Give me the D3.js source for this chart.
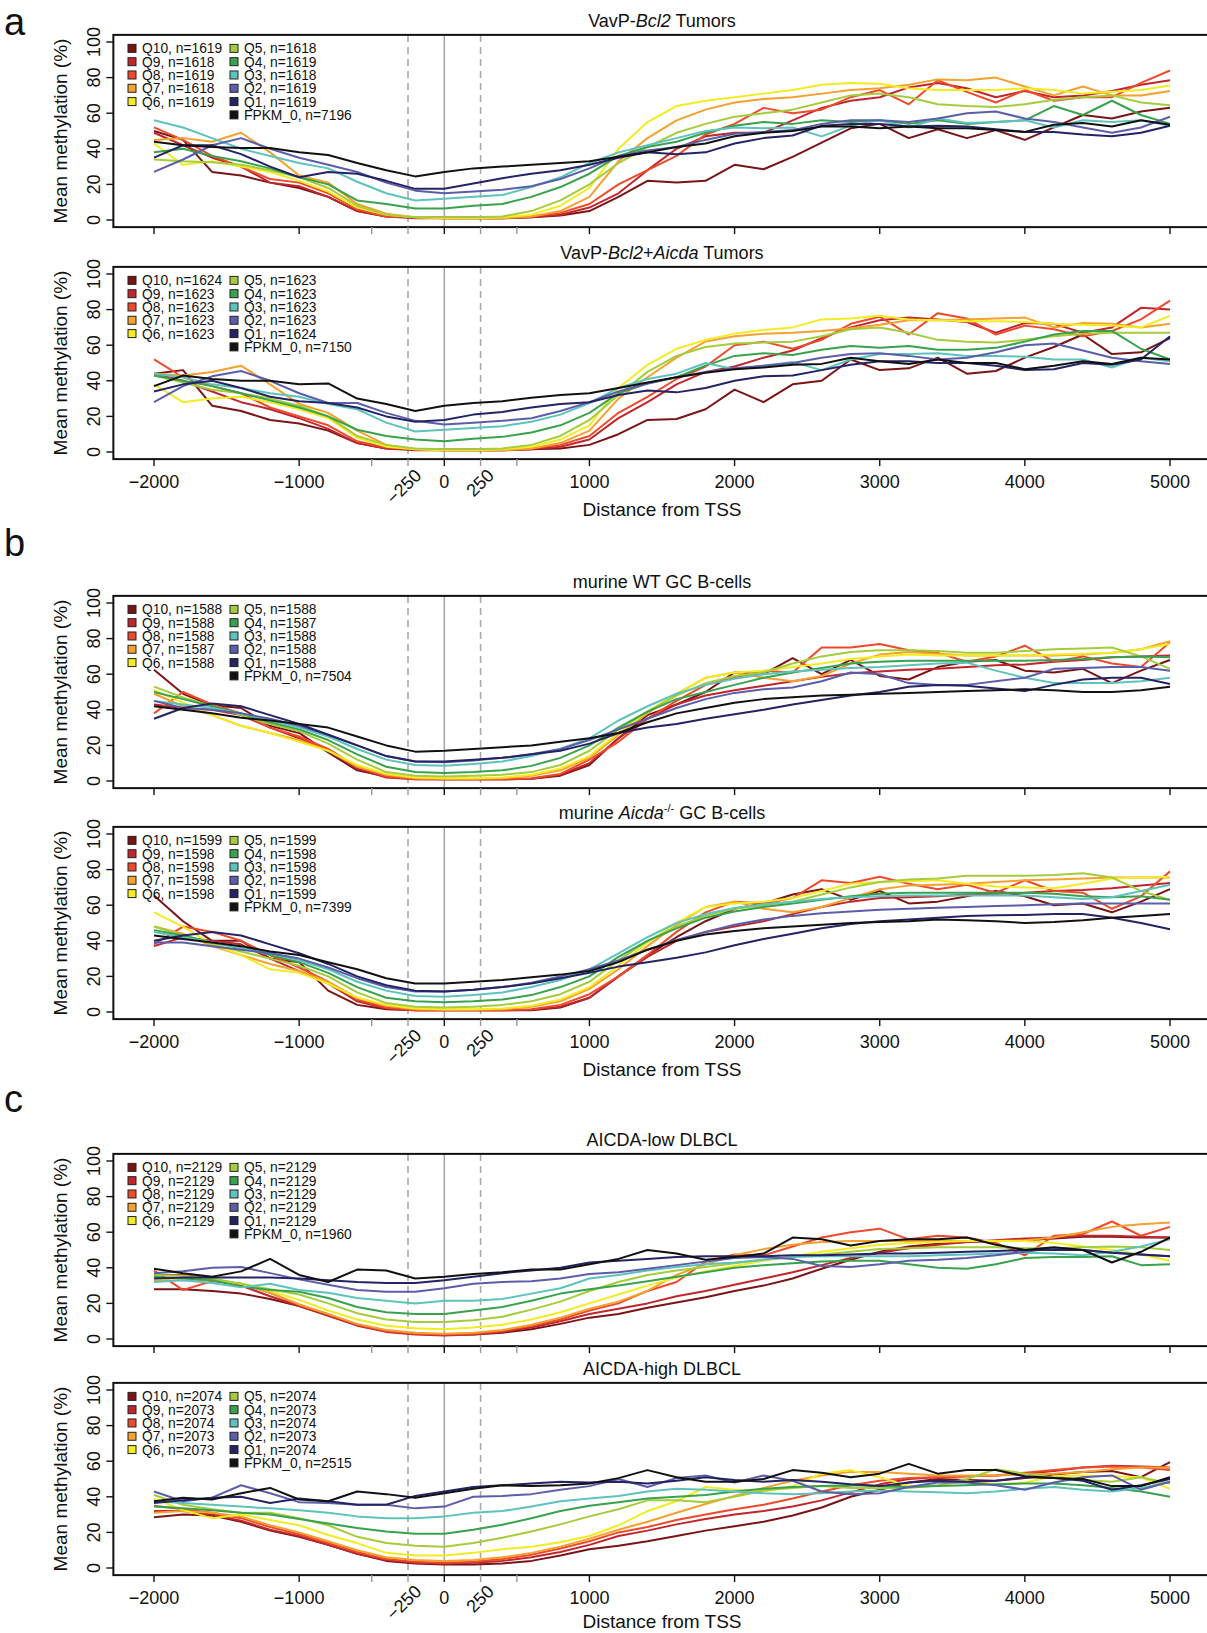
<!DOCTYPE html>
<html lang="en">
<head>
  <meta charset="UTF-8">
  <title>Mean methylation around the TSS by expression quantile</title>
  <script src="https://d3js.org/d3.v7.min.js"></script>
  <style>
    html, body { margin: 0; padding: 0; background: #fff; }
    svg { display: block; font-family: "Liberation Sans", Arial, sans-serif; fill: #111; }
    .series { fill: none; stroke-width: 2px; stroke-linejoin: round; }
    .frame { fill: none; stroke: #111; stroke-width: 2px; }
    .ref { stroke: #a9a9a9; stroke-width: 1.6px; }
    .tick { stroke: #111; stroke-width: 1.4px; }
    .tick.minor { stroke: #9a9a9a; }
    .ticklabel, .ptitle { font-size: 18px; }
    .axistitle { font-size: 19px; }
    .legend text { font-size: 13.8px; }
    .letter { font-size: 38px; }
  </style>
</head>
<body>
<svg id="chart" width="1207" height="1633"></svg>
<script>
// x positions of the profile bins (bp from TSS)
const distance = [-2000, -1800, -1600, -1400, -1200, -1000, -800, -600, -400, -200, 0, 200, 400, 600, 800, 1000,
  1200, 1400, 1600, 1800, 2000, 2200, 2400, 2600, 2800, 3000, 3200, 3400, 3600, 3800, 4000, 4200, 4400, 4600, 4800, 5000];

const groups = ["Q10", "Q9", "Q8", "Q7", "Q6", "Q5", "Q4", "Q3", "Q2", "Q1", "FPKM_0"];
const groupColors = ["#7a1416", "#c1262c", "#ee4a2b", "#f6a02e", "#f2ec20", "#a5cc3b", "#38a24c", "#5ec3bc", "#5b5ea9", "#242364", "#111111"];

const majorTicks = [-2000, -1000, 0, 1000, 2000, 3000, 4000, 5000];
const minorTicks = [-500, -250, 250, 500];
const angledTicks = [-250, 250];
const yTicks = [0, 20, 40, 60, 80, 100];

// rows follow `groups`: Q10 ... Q1, FPKM_0
const vavpBcl2 = [
  [50,45,27,25,21,18,13,5,2,1.5,1,1,1,1.5,2.5,5, 13,22,21,22,31,28.5,35.5,43.5,51.5,54,46,51,46,50.5,45,52,59,57,61,63],
  [49,42,35,30,21,19,13,5,2,1,1,1,1,1.5,3,7, 15,28,40,47,49,49,56,63,67,69,74.5,77,74,69,72.5,69,70,72.5,76,78.5],
  [52,45,36,30,23,21,15,6,2,1.5,1.5,1.5,1.5,2,4,9, 20,28,36,48,54,63,60,62,69,73,65,78.5,72,66,73,67,69,69,77,84],
  [45,46,44,49,38,25,21,9,3.5,1.5,1,1,1,2,5,13, 33,46,56,62,66,68,69,71,73,74,76,79,78.5,80,75,70,75,70,70,72.5],
  [43,31,33,30,27,22,16,7,3,1.5,1,1,1.5,3,8,18, 40,55,64,67,69,71,73,76,77,76.5,74,73,73,73,74,73,71,72,73,75.5],
  [34,33,32.5,31,28,24,18,8,3,1.5,1.5,1.5,2,5,11,20, 32,41,49,54,58,60,62,66,70,71,69,65,64,63.5,65,67.5,69,70,66,64.5],
  [38,40,36,33,29,24,20,11,9,6.5,6.5,8,9,13,18.5,26, 36,41,44,49,53,55,54,56,55,56,54,56,54,55,56,64,59,67,59,54],
  [56,52,46,40,36,32,29,21.5,15,11,12,13,14,18.5,24,32, 38,42,46,50,52,51.5,52,47,53,56,52,57,54.5,55,56,52,56,55,56,53],
  [27,34,42,46,40,35,31,27,21,16.5,15,16,17,19,23,29, 36,39,41,45,48.5,49.5,50.5,54,56,56,55,57,60,61,57,55,52,49,52,58],
  [35,42,42,37,30,24,27,26,22,17.5,17.5,20.5,23.5,26,28,31, 35,38,37,38,43,46,47.5,53,54,54,52.5,53,52.5,51,49.5,49.5,48,47,49,53],
  [44,42,41,40.5,40.5,38,36.5,32,28,24.5,27,29,30,31,32,33, 35.5,38,41,43,47,49,50,52.5,52.5,51.5,52.5,51.5,51.5,50.5,49.5,53.5,54.5,52.5,56,53.5]
];
const vavpBcl2N = [1619, 1618, 1619, 1618, 1619, 1618, 1619, 1618, 1619, 1619, 7196];

const vavpBcl2Aicda = [
  [44,46,26,23,18,16,12,5,2,1.5,1,1,1,1.5,2,4, 10,18,18.5,24,35,28,38,40,52,46,47,53,44,45.5,53,59,66,55,56,64],
  [44,40,34,28,24,19,13,5,2,1,1,1,1,1.5,3,7, 19,28,38,45,48,53,57,64,70,74,75.5,74.5,73,67,72.5,72,67,70,81,80],
  [52,42,37,33,25,20,15,6,2.5,1.5,1.5,1.5,1.5,2,4,9, 22,31,41,48,60,62,58,63,72,76,66,78,75,66,71,69,65,68,74.5,85],
  [44,43,45,48.5,38,27,22,12,4,1.5,1,1,1,2,5,12, 30,42,53,62,65,66.5,67,68,69.5,71.5,74,74,74.5,75,75.5,70,72.5,72,70,72],
  [38,28,30,31,28,24,19,8,3,1.5,1,1,1.5,3,7,15, 36,49,58,63,66.5,68.5,70,74.5,75,76.5,74.5,74,73.5,73.5,73,72,71.5,71,70,76.5],
  [43,39,35,33,30,26,20,9,4,2,1.5,1.5,2,4,9,18, 32,45,54,59,61,61.5,62,65,69,70,67,63,62,61.5,63,65,66.5,67,67,67],
  [43,40,37,33,29,25,20,12.5,9,7,6,7.5,8.5,11,15,22, 33,38.5,42,48.5,54,55.5,54.5,57.5,59.5,58.5,59.5,57.5,57.5,58.5,62,66,68,68,58,52],
  [44,42,38,36,33,31,27,24,16.5,11.5,12.5,13.5,14.5,17,21,27.5, 36,41,44,50,46.5,48.5,50.5,46,52,55,55,55.5,54,54,53.5,52,52,47.5,53,51],
  [28,37,42.5,45.5,40,33,27.5,27.5,22,17.5,15.5,16.5,17.5,19,23,28, 34,38.5,42,45,47,48.5,50,53,55,55.5,54,52,53,56,60,61,57,53,51,49.5],
  [34,38,40,36,31,28.5,27.5,25,20,17,18,21,22.5,25,27,28, 32,34.5,33.5,36,40,42.5,43,46,49,51,51,50,50,48.5,46,46.5,50,49,52,65],
  [37,43,41,40,40,38,38.5,30,27,23,26,27.5,28.5,30.5,32,33, 36,39,42,44.5,46.5,47.5,49,49.5,53,51,49.5,52,50,50,46.5,48.5,51,49.5,53,52]
];
const vavpBcl2AicdaN = [1624, 1623, 1623, 1623, 1623, 1623, 1623, 1623, 1623, 1624, 7150];

const murineWT = [
  [62.5,49,42.5,41,31,27,16,6,2.5,1.3,1,1,1,1.2,3,9, 24,37,43,50,61,60,69,60,68,59,57,64,67,68,62,61,63,55,62,68],
  [43,41,40,37,30,24,17,7,2,1,1,1,1,1.2,3.5,10, 24,35,43,48,51,53.5,56,58.5,60.5,61.5,62.5,63,64,65,65.5,67,68,69.5,70,70.5],
  [38,50,43,38,30,25,18,8,2.5,1,1,1,1,1.5,4,12, 22,35,45,54,58,62,61,75,75,77,73.5,72,67,70,76,67,70,66,64,78],
  [49,42,37,31,27,23,17,8,3.5,1.5,1.2,1.2,1.5,3,6,13, 26,38,49,58,61,58,56,59,66,71,72.5,71.5,70.5,70.5,70.5,70.5,71,72,74,78.5],
  [51,44,37,31,27,22,17,9,4,2,1.5,1.5,2,3.5,7,14, 27,39,49,58,61,62,64,66,68.5,70,71,70.5,70.5,70.5,70.5,71,71.5,72,74,77],
  [53,47,42,37,32,28,21,12,5,3,2.5,3,3.5,5,9,17, 29,39,48,55,59,61,66,70,72.5,73.5,73.5,73,72,72,73,74,74.5,75,70,63],
  [50,46,42,38,33,29,23,15,8,5,4.5,5,6,8.5,13,20, 30,39,46,50,54,58,61,63.5,66,67,67.5,67.5,67.5,67.5,67.5,68,68.5,69.5,70,69.5],
  [45,43,41,38,34,30,25,18,12,9,8.5,9.5,11,14,18,24, 34,42,49,54,57.5,60,61.5,62.5,63.5,64,65,66,66.5,62,58,55,55,55,56,58],
  [45,41,40,38,35,31,26,20,14,11,10.5,11.5,13,15,18,23, 29,35,41,46,49.5,51.5,52.5,56,61,60,55,54,54,56,58,63,63.5,64,64,62],
  [35,41,43.5,42,37,32,26,20,14,11,11,12,13,15,17,21, 27,30,32,35,37.5,40,43,45.5,48,50,53,54,53.5,52,50.5,54,57,58,58,54.5],
  [42,40,38,35.5,34,32,30,25,20,16.5,17,18,19,20,22,24, 27,33,38,41,44,46,47,48,48.5,49,49.5,50,50.5,51,51.5,51,50,50,51,53]
];
const murineWTN = [1588, 1588, 1588, 1587, 1588, 1588, 1587, 1588, 1588, 1588, 7504];

const murineAicdaKO = [
  [65.5,51,40,40,30,28,12,4,1.5,1,1,1,1,1,2.5,8, 20,32,42,51,58,61,66,69,63,68,61,62,65,68,65,60,61,56,62,69],
  [37,42,40,38,30,23,16,6,2,1,1,1,1,1.2,3,8, 20,31,40,45,48,51,55,59,62,64,64.5,65,66,66.5,67,68,68.5,69.5,71,72.5],
  [38,48,45,40,32,25,17,7,2.5,1,1,1,1,1.5,4,10, 20,32,45,56,62,61,64,74,72.5,76,72,69,71.5,67,74,68,67,58,65,79],
  [48,44,37,32,27,23,17,8,3.5,1.5,1.2,1.2,1.5,3,6,13, 24,37,49,59,62,58,56,59,64,69,71,71.5,72,73,74,74.5,75,75.5,75.5,75.5],
  [56,48,38,32,24,22,16,8,4,2,1.5,1.5,2,3.5,7,14, 26,39,50,59,61,62,64,68,72,73,73.5,74,72,70.5,70,69.5,72,75,75.5,76],
  [48,43,38,34,30,26,20,11,5,3,2.5,3,4,6,10,17, 29,40,48,54,58,60,62,66,70,73,74.5,75,76.5,76.5,76.5,77,78,75.5,68,63],
  [46,43,39,36,32,28,22,14,8,6,5.5,6,7,9.5,14,20, 31,40,47,53,56.5,59,61,63,65,66.5,67,67,67,67,67,66.5,65,64.5,65,63],
  [45,42,39,36,33,29,24,17,12,9,8.5,9.5,11,14,18,24, 33,42,50,55,58.5,60.5,62,63.5,64.5,65,65.5,65.5,65.5,65.5,65.5,64.5,63.5,64.5,68,71.5],
  [39,39,37,35,33,30,25,19,14,11.5,11.5,12.5,14,16.5,20,24, 29,35,40.5,45,49,52,54,55.5,56.5,57.5,58,58.5,59,59.5,60,60.5,61,61,61,61],
  [40,43,45,43,38,33,27,20,15,12,11.5,12.5,14,16,19,22, 25.5,28,30.5,33.5,37.5,41,44,47,49.5,51,52,53,54,54.3,54.5,55,55,53,50,46.5],
  [43,41,39,37,34,32,28,24,19,16,16,17,18,19.5,21,23, 28,35,40,43.5,45.5,47,48,49,50,50.5,51,52,51.5,51,50,50.5,51.5,53,54,55]
];
const murineAicdaKON = [1599, 1598, 1598, 1598, 1598, 1599, 1598, 1598, 1598, 1599, 7399];

const aicdaLow = [
  [28,28,27,25.5,22.5,18.5,13.5,8,4.5,3,2.5,2.5,3.5,5.5,8.5,12, 14,17.5,20.5,23.5,27,30,34,39.5,44.5,49,52,53.5,54.5,55,55.5,56.5,57.5,57.5,57,57],
  [36,36,34,30,24,18.5,13,7.5,4,2.5,2,2.5,4,6.5,10,14, 17,20,24,27,30.5,34,37.5,41.5,45.5,48.5,51,53,54.5,55.5,56.5,57,58,58,57.5,57],
  [38.5,27.5,32.5,31,26,19,14,8,4.5,3,2.5,3,4.5,7.5,11,16, 20,27,32,43.5,47.5,47,52,57,60,62,56,58,57,54,47,58,59,66,58,63],
  [33,33,33,31,26,19.5,14,8.5,5,3.5,3,3.5,5,8,12,17, 21,27,36,42,47,50.5,53,54.5,55,55,55,55,55,55,55.5,57,60,63,64.5,65.5],
  [34,34,33.5,31,27,22,16,11,7.5,6,5.5,6.5,8,11,15,20, 25,30,34.5,38,41,44,46.5,49,51,53,54,54.5,55,55,55,54,52,50,47.5,44],
  [36,35.5,34,31,28,25,20,14.5,11,9.5,9.5,10.5,12.5,16.5,21,27, 32,36,38.5,40.5,42.5,44.5,46,47.5,49,50.5,51,51.5,51.5,51.5,51,51,51.5,52,51.5,50],
  [35,34,33,29.5,27.5,26.5,23,18,15,14,14,16,18,21.5,25.5,28, 30,32.5,35,37.5,40,41.5,42.5,43.5,44,44,42,40,39.5,42,45.5,46,46,46.5,41.5,42],
  [32,33,31.5,29,31,27.5,26,23,21.5,20,21.5,21.5,22.5,25.5,28.5,34, 36,38.5,40.5,42,43,44.5,46,46.5,46.5,46.5,46.5,47,47.5,48,48.5,48,47,49,52,56],
  [37,38,40,40.5,37,33.5,30.5,27.5,26.5,26.5,28.5,31,32,32.5,34,36.5, 37.5,39.5,41.5,43.5,45.5,46,45,41,40.5,42,44,44.5,45.5,47,49,51,50,48.5,47.5,46.5],
  [34,34.5,34.5,34.5,34.5,34,33,32,31.5,31.5,33,35,37,38.5,40,43, 44,45,46,46.5,46.5,46.5,47,47,47.5,48,48,48.5,49,49.5,50,50,50,48.5,47.5,46.5],
  [39.5,37,35,38,45,36,32,39,38.5,34,35,36.5,37.5,39,39,42, 45,50,48,44.5,46,48,57,56,52.5,55,56,56,57,53,50,51.5,50,43,49,57]
];
const aicdaLowN = [2129, 2129, 2129, 2129, 2129, 2129, 2129, 2129, 2129, 2129, 1960];

const aicdaHigh = [
  [28.5,30,29.5,26,21,17.5,13,8,4,2.5,2,2,2.5,4,7,10.5, 12.5,15,18,21,23.5,26,29.5,34,40,44,48,50,49.5,49,50.5,52.5,54,54.5,51,59.5],
  [32,32,30,26.5,21.5,18,13,8,4.5,3,2.5,3,4,6,9,13, 18,21,24.5,27.5,30,32,34.5,38,42.5,47,50,51,51.5,52,53,54.5,56.5,57.5,57,56.5],
  [35,33,31,28,23,19,14,9,5,3.5,3,3.5,5,7.5,11,15, 20,23,27,30,33,35.5,39,43,46.5,49,50.5,51,51.5,52,53.5,55,56.5,57,56.5,55],
  [31,32,31,29,24,20,15,10,6,4.5,4,4.5,6,8.5,12,16.5, 21.5,26,31,36,40.5,45,49,52,54,54,53,52,52,52,52.5,53,54,55.5,56.5,56.5],
  [39,32.5,28,30,27,24,18.5,14,8.5,7,7,8.5,10.5,12,14.5,18, 24,32,37.5,45.5,44,43,46,53,55,51,46,46,49,47,48,51.5,52,51.5,51,44.5],
  [41,35.5,33,31,31,28,24,17.5,14,12.5,12,14,17,20.5,24.5,29, 33,38,38,37,40,43.5,45,46,45,45,45,46.5,50,55.5,53,51,49.5,48.5,51,47.5],
  [34.5,33.5,32.5,31,30,27.5,25,22.5,20.5,19.3,19.3,21.5,24.3,28,32,35, 37,39,40,41,43,44.5,45.5,46,46.5,46,45.5,46,46.5,47,47.5,47.5,46.5,45,43,40],
  [37.5,36.5,35.5,34.5,33.5,32.5,31,29,28,28,29,31,32,34.5,37.5,39, 40.5,43,44.5,44,43,42,41.5,42,43,43.5,43,42.5,42,43,44.5,45.5,44,43,45,48.5],
  [43,37.5,39.5,46.5,42,37,36.5,35.5,35.5,33.5,34.5,40,40.5,41.5,44,46, 50,45.5,50.5,52,48,52,49,43,41.5,42,45.5,48,48,46.5,44,48,51,52,44,48.5],
  [36.5,38,39.5,40,36.5,39,37.5,35.5,35.5,40.5,43,45.5,46.5,47.5,48.5,48, 48.5,47.5,49,51,49.5,48.5,49.5,48.5,47,46,48,49,48.5,49,51,50.5,49,44,46.5,50],
  [37.5,39.5,38.5,42,45,38.5,37.5,43,41.5,39.5,42,44.5,46.5,46,46.5,47.5, 50.5,55,51,48.5,48.5,50,55,53.5,51,53,58.5,53,55,55,51.5,50.5,50,46,46,51]
];
const aicdaHighN = [2074, 2073, 2074, 2073, 2073, 2074, 2073, 2074, 2073, 2074, 2515];

// panel layout: base = pixel row of 0 %
const panels = [
  { letter: "a", title: [["VavP-"], ["Bcl2", "i"], [" Tumors"]], data: vavpBcl2, n: vavpBcl2N, base: 220, labels: false },
  { title: [["VavP-"], ["Bcl2", "i"], ["+"], ["Aicda", "i"], [" Tumors"]], data: vavpBcl2Aicda, n: vavpBcl2AicdaN, base: 452, labels: true },
  { letter: "b", title: [["murine WT GC B-cells"]], data: murineWT, n: murineWTN, base: 781, labels: false },
  { title: [["murine "], ["Aicda", "i"], ["-/-", "sup"], [" GC B-cells", "after"]], data: murineAicdaKO, n: murineAicdaKON, base: 1012, labels: true },
  { letter: "c", title: [["AICDA-low DLBCL"]], data: aicdaLow, n: aicdaLowN, base: 1339, labels: false },
  { title: [["AICDA-high DLBCL"]], data: aicdaHigh, n: aicdaHighN, base: 1568, labels: true }
];
const letterY = { a: 35, b: 556, c: 1112 };

const svg = d3.select("#chart");
const x = d3.scaleLinear().domain([-2000, 5000]).range([154, 1170]);
const boxLeft = x(-2280), boxRight = x(5280);
const fmt = v => (v < 0 ? "\u2212" + Math.abs(v) : String(v));

panels.forEach(p => {
  const y = d3.scaleLinear().domain([0, 100]).range([p.base, p.base - 178]);
  const top = y(104), bottom = y(-4);
  const g = svg.append("g");

  // TSS marker and +/-250 bp guides
  g.selectAll(".ref").data([-250, 0, 250]).join("line")
    .attr("class", "ref")
    .attr("x1", d => x(d)).attr("x2", d => x(d))
    .attr("y1", top).attr("y2", bottom)
    .attr("stroke-dasharray", d => d === 0 ? null : "7,5");

  // profiles
  const line = d3.line().x((d, i) => x(distance[i])).y(d => y(d));
  g.selectAll(".series").data(p.data).join("path")
    .attr("class", "series")
    .attr("stroke", (d, i) => groupColors[i])
    .attr("d", line);

  g.append("rect").attr("class", "frame")
    .attr("x", boxLeft).attr("y", top)
    .attr("width", boxRight - boxLeft).attr("height", bottom - top);

  // y axis
  g.selectAll(".ytick").data(yTicks).join("line")
    .attr("class", "tick")
    .attr("x1", boxLeft).attr("x2", boxLeft - 7)
    .attr("y1", d => y(d)).attr("y2", d => y(d));
  g.selectAll(".ylab").data(yTicks).join("text")
    .attr("class", "ticklabel")
    .attr("text-anchor", "middle")
    .attr("transform", d => `translate(100,${y(d)}) rotate(-90)`)
    .text(d => d);
  g.append("text").attr("class", "axistitle")
    .attr("text-anchor", "middle")
    .attr("transform", `translate(67,${y(50)}) rotate(-90)`)
    .text("Mean methylation (%)");

  // x axis ticks
  g.selectAll(".xmaj").data(majorTicks).join("line")
    .attr("class", "tick")
    .attr("x1", d => x(d)).attr("x2", d => x(d))
    .attr("y1", bottom).attr("y2", bottom + 7);
  g.selectAll(".xmin").data(minorTicks).join("line")
    .attr("class", "tick minor")
    .attr("x1", d => x(d)).attr("x2", d => x(d))
    .attr("y1", bottom).attr("y2", bottom + 7);

  if (p.labels) {
    g.selectAll(".xlab").data(majorTicks).join("text")
      .attr("class", "ticklabel")
      .attr("text-anchor", "middle")
      .attr("x", d => x(d)).attr("y", p.base + 36)
      .text(fmt);
    g.selectAll(".xang").data(angledTicks).join("text")
      .attr("class", "ticklabel")
      .attr("text-anchor", "end")
      .attr("dy", "0.35em")
      .attr("transform", d => `translate(${x(d) + 10},${bottom + 13}) rotate(-45)`)
      .text(fmt);
    // the bottom panel's label sits against the page edge
    g.append("text").attr("class", "axistitle")
      .attr("text-anchor", "middle")
      .attr("x", x(1500)).attr("y", Math.min(p.base + 64, 1628))
      .text("Distance from TSS");
  }

  // title
  const t = g.append("text").attr("class", "ptitle")
    .attr("text-anchor", "middle")
    .attr("x", (boxLeft + boxRight) / 2).attr("y", top - 8);
  p.title.forEach(([s, style]) => {
    const span = t.append("tspan").text(s);
    if (style === "i") span.attr("font-style", "italic");
    if (style === "sup") span.attr("font-size", "11px").attr("dy", -7);
    if (style === "after") span.attr("dy", 7);
  });

  // legend: two columns, FPKM_0 under Q1
  const leg = g.append("g").attr("class", "legend");
  groups.forEach((name, i) => {
    const col = i < 5 ? 0 : 1;
    const row = i < 5 ? i : i - 5;
    const cx = col === 0 ? 132 : 234;
    const cy = top + 13.5 + row * 13.3;
    leg.append("rect")
      .attr("x", cx - 4).attr("y", cy - 4).attr("width", 8).attr("height", 8)
      .attr("fill", groupColors[i]).attr("stroke", "#222").attr("stroke-width", 1);
    leg.append("text")
      .attr("x", cx + 10).attr("y", cy).attr("dy", "0.36em")
      .text(`${name}, n=${p.n[i]}`);
  });

  if (p.letter) {
    svg.append("text").attr("class", "letter")
      .attr("x", 4).attr("y", letterY[p.letter])
      .text(p.letter);
  }
});
</script>
</body>
</html>
